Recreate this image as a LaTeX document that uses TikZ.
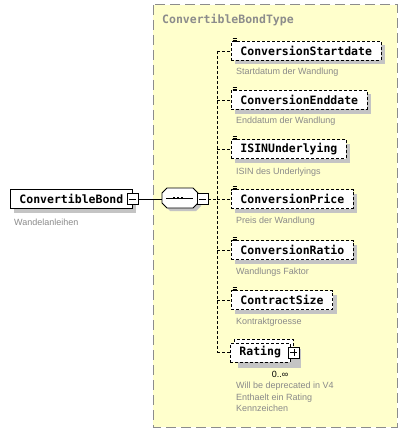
\documentclass[tikz,border=0pt]{standalone}
\usepackage{fontspec}
\setmainfont{Liberation Sans}
\newfontfamily\schemamono{DejaVu Sans Mono}
\usetikzlibrary{positioning,shadows}

\definecolor{typefill}{HTML}{FFFFCC}
\definecolor{typeline}{HTML}{8C8C8C}
\definecolor{descgray}{HTML}{8A8A8A}
\definecolor{shadowgray}{HTML}{C4C4C4}

\tikzset{
  elembase/.style={draw, fill=white, anchor=west, line width=0.9pt,
    minimum height=19pt, inner xsep=9pt, inner ysep=0pt,
    font=\schemamono\bfseries\fontsize{11.5}{13}\selectfont},
  elem/.style={elembase,
    drop shadow={shadow xshift=4pt, shadow yshift=-4pt, fill=shadowgray, opacity=1}},
  optelem/.style={elem, dash pattern=on 3pt off 2pt},
  desc/.style={anchor=west, inner sep=0pt, text=descgray,
    font=\fontsize{9}{11.5}\selectfont},
  conn/.style={line width=0.8pt, dash pattern=on 3pt off 2pt},
  togglebox/.style={draw, fill=white, solid, line width=0.8pt,
    minimum width=11pt, minimum height=11pt, inner sep=0pt},
  minusbox/.style={togglebox, path picture={
    \draw[line width=0.8pt] ([xshift=2pt]path picture bounding box.west)
      -- ([xshift=-2pt]path picture bounding box.east);}},
  plusbox/.style={togglebox, path picture={
    \draw[line width=0.8pt] ([xshift=2pt]path picture bounding box.west)
      -- ([xshift=-2pt]path picture bounding box.east)
      ([yshift=2pt]path picture bounding box.south)
      -- ([yshift=-2pt]path picture bounding box.north);}},
}

% small "simple content" mark on the corner of an element box
\newcommand{\leafmark}[1]{%
  \draw[line width=0.6pt, shift={(#1.north west)}]
    (1.5,-2.5) -- ++(4.5,0) (1.5,-1) -- ++(4.5,0) (1.5,0.5) -- ++(4.5,0);}

\begin{document}
\begin{tikzpicture}[x=1pt, y=-1pt]
  \useasboundingbox (0,0) rectangle (408,433);

  % complex type frame
  \fill[typefill] (153,5) rectangle (397,427);
  \draw[typeline, line width=1pt, dash pattern=on 10pt off 5pt] (153,5) rectangle (397,427);
  \node[anchor=west, inner sep=0pt, text=typeline,
    font=\schemamono\bfseries\fontsize{11.5}{13}\selectfont] (typename) at (162,20) {ConvertibleBondType};

  % root element
  \node[elem] (bond) at (10,199) {ConvertibleBond\hspace{2pt}};
  \node[minusbox] (bondtoggle) at (bond.east) {};
  \node[desc] (bonddesc) at (14,222) {Wandelanleihen};

  % sequence compositor
  \fill[shadowgray] (170,191) -- (196,191) -- (201,196) -- (201,206) -- (196,211)
    -- (170,211) -- (165,206) -- (165,196) -- cycle;
  \draw[fill=white, line width=0.9pt] (167,188) -- (193,188) -- (198,193) -- (198,203)
    -- (193,208) -- (167,208) -- (162,203) -- (162,193) -- cycle;
  \node[inner sep=0pt, minimum width=36pt, minimum height=20pt] (seq) at (180,198) {};
  \draw[line width=0.8pt] (166,198) -- (193,198);
  \foreach \d in {174,178,182}
    \fill (\d-1.4,196.6) rectangle (\d+1.4,199.4);
  \node[minusbox] (seqtoggle) at (202.5,199) {};
  \draw[line width=0.8pt] (bondtoggle.east) -- (bondtoggle.east -| seq.west);

  % child elements
  \node[optelem] (startdate) at (231,51) {ConversionStartdate};
  \node[desc] (startdesc) at (236,72) {Startdatum der Wandlung};
  \node[optelem] (enddate) at (231,100) {ConversionEnddate};
  \node[desc] (enddesc) at (236,121) {Enddatum der Wandlung};
  \node[optelem] (isin) at (231,149) {ISINUnderlying};
  \node[desc] (isindesc) at (236,172) {ISIN des Underlyings};
  \node[optelem] (price) at (231,199) {ConversionPrice};
  \node[desc] (pricedesc) at (236,221) {Preis der Wandlung};
  \node[optelem] (ratio) at (231,250) {ConversionRatio};
  \node[desc] (ratiodesc) at (236,272) {Wandlungs Faktor};
  \node[optelem] (csize) at (231,300) {ContractSize};
  \node[desc] (csizedesc) at (236,322) {Kontraktgroesse};

  \leafmark{startdate}
  \leafmark{enddate}
  \leafmark{isin}
  \leafmark{price}
  \leafmark{ratio}
  \leafmark{csize}

  % Rating, repeated element
  \fill[shadowgray] (238,349) rectangle (301,368);
  \draw[fill=white, line width=0.9pt, dash pattern=on 3pt off 2pt] (234,339) rectangle (293,358);
  \node[elembase, dash pattern=on 3pt off 2pt, minimum height=19pt] (rating) at (230,352.5) {Rating};
  \node[plusbox] (ratingtoggle) at ([xshift=3.5pt]rating.east) {};
  \node[inner sep=0pt, font=\fontsize{9}{11}\selectfont] (ratingocc) at (280,374) {0..∞};
  \node[desc, anchor=north west, align=left] (ratingdesc) at (236,382)
    {Will be deprecated in V4\\Enthaelt ein Rating\\Kennzeichen};

  % connectors
  \coordinate (spinetop) at (217,51);
  \coordinate (spinebot) at (217,352.5);
  \draw[conn] (seqtoggle.east) -- (seqtoggle.east -| spinetop);
  \draw[conn] (spinetop) -- (spinebot);
  \draw[conn] (spinetop) -- (startdate.west);
  \draw[conn] (enddate.west -| spinetop) -- (enddate.west);
  \draw[conn] (isin.west -| spinetop) -- (isin.west);
  \draw[conn] (price.west -| spinetop) -- (price.west);
  \draw[conn] (ratio.west -| spinetop) -- (ratio.west);
  \draw[conn] (csize.west -| spinetop) -- (csize.west);
  \draw[conn] (spinebot) -- (rating.west);
\end{tikzpicture}
\end{document}
